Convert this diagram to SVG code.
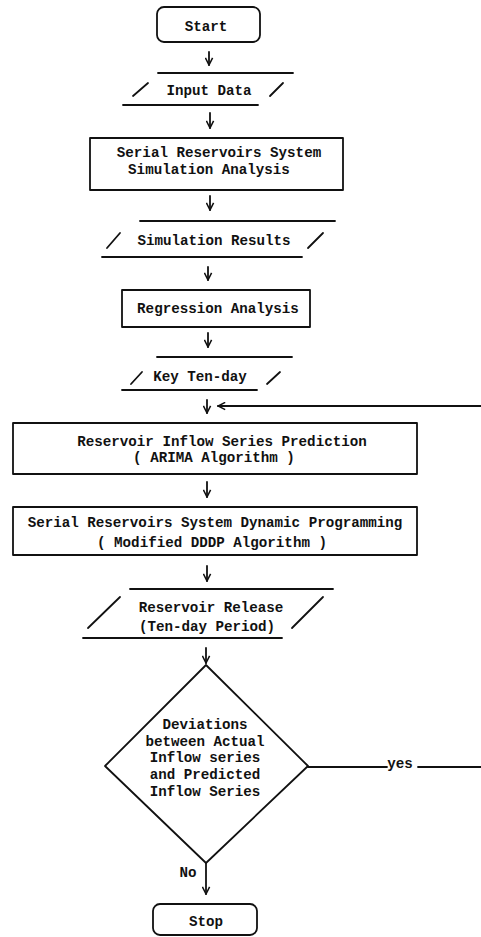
<svg xmlns="http://www.w3.org/2000/svg" width="481" height="937" viewBox="0 0 481 937">
<style>
.s{fill:none;stroke:#111;stroke-width:1.8;stroke-linecap:round;stroke-linejoin:round}
.t{font-family:"Liberation Mono","DejaVu Sans Mono",monospace;font-weight:bold;font-size:14.2px;fill:#111;text-anchor:middle}
</style>
<defs>
<marker id="ah" viewBox="0 0 10 10" refX="9" refY="5" markerWidth="9" markerHeight="9" orient="auto" markerUnits="userSpaceOnUse">
<path d="M1,1 L9,5 L1,9" fill="none" stroke="#111" stroke-width="1.7"/>
</marker>
</defs>
<rect width="481" height="937" fill="#fff"/>

<g id="start">
<rect class="s" x="157" y="7" width="103" height="35" rx="7"/>
<text class="t" x="206" y="31">Start</text>
</g>

<g id="input">
<line class="s" x1="158" y1="73" x2="293" y2="73"/>
<line class="s" x1="123" y1="105" x2="258" y2="105"/>
<line class="s" x1="133" y1="96" x2="148" y2="83"/>
<line class="s" x1="270" y1="96" x2="283" y2="83"/>
<text class="t" x="209" y="95">Input Data</text>
</g>

<g id="simulation">
<rect class="s" x="90" y="138" width="253" height="52"/>
<text class="t" x="219" y="157">Serial Reservoirs System</text>
<text class="t" x="209" y="174">Simulation Analysis</text>
</g>

<g id="simresults">
<line class="s" x1="140" y1="221" x2="335" y2="221"/>
<line class="s" x1="102" y1="257" x2="302" y2="257"/>
<line class="s" x1="107" y1="248" x2="120" y2="233"/>
<line class="s" x1="308" y1="248" x2="323" y2="233"/>
<text class="t" x="214" y="245">Simulation Results</text>
</g>

<g id="regression">
<rect class="s" x="122" y="290" width="188" height="37"/>
<text class="t" x="218" y="313">Regression Analysis</text>
</g>

<g id="keyten">
<line class="s" x1="157" y1="357" x2="292" y2="357"/>
<line class="s" x1="122" y1="390" x2="257" y2="390"/>
<line class="s" x1="131" y1="384" x2="142" y2="372"/>
<line class="s" x1="267" y1="384" x2="280" y2="372"/>
<text class="t" x="200" y="381">Key Ten-day</text>
</g>

<g id="inflow">
<rect class="s" x="13" y="423" width="404" height="51"/>
<text class="t" x="222" y="446">Reservoir Inflow Series Prediction</text>
<text class="t" x="214" y="462">( ARIMA Algorithm )</text>
</g>

<g id="ddp">
<rect class="s" x="13" y="507" width="404" height="48"/>
<text class="t" x="215" y="527">Serial Reservoirs System Dynamic Programming</text>
<text class="t" x="212" y="547">( Modified DDDP Algorithm )</text>
</g>

<g id="release">
<line class="s" x1="130" y1="589" x2="333" y2="589"/>
<line class="s" x1="83" y1="638" x2="282" y2="638"/>
<line class="s" x1="88" y1="628" x2="120" y2="597"/>
<line class="s" x1="292" y1="628" x2="323" y2="597"/>
<text class="t" x="211" y="612">Reservoir Release</text>
<text class="t" x="207" y="631">(Ten-day Period)</text>
</g>

<g id="decision">
<path class="s" d="M206,665 L308,766 L206,863 L105,766 Z"/>
<text class="t" x="205" y="729">Deviations</text>
<text class="t" x="205" y="746">between Actual</text>
<text class="t" x="205" y="762">Inflow series</text>
<text class="t" x="205" y="779">and Predicted</text>
<text class="t" x="205" y="796">Inflow Series</text>
</g>

<g id="stop">
<rect class="s" x="153" y="904" width="104" height="31" rx="7"/>
<text class="t" x="206" y="926">Stop</text>
</g>

<g id="connectors">
<line class="s" x1="209" y1="52" x2="209" y2="65" marker-end="url(#ah)"/>
<line class="s" x1="210" y1="113" x2="210" y2="128" marker-end="url(#ah)"/>
<line class="s" x1="210" y1="196" x2="210" y2="210" marker-end="url(#ah)"/>
<line class="s" x1="208" y1="267" x2="208" y2="280" marker-end="url(#ah)"/>
<line class="s" x1="208" y1="333" x2="208" y2="347" marker-end="url(#ah)"/>
<line class="s" x1="207" y1="400" x2="207" y2="413" marker-end="url(#ah)"/>
<line class="s" x1="207" y1="482" x2="207" y2="497" marker-end="url(#ah)"/>
<line class="s" x1="207" y1="566" x2="207" y2="581" marker-end="url(#ah)"/>
<line class="s" x1="206" y1="648" x2="206" y2="663" marker-end="url(#ah)"/>
<line class="s" x1="206" y1="863" x2="206" y2="894" marker-end="url(#ah)"/>
<path class="s" d="M308,767 L387,767 M418,767 L484,767 L484,406"/>
<line class="s" x1="481" y1="406" x2="218" y2="406" marker-end="url(#ah)"/>
<text class="t" x="400" y="768">yes</text>
<text class="t" x="188" y="877">No</text>
</g>
</svg>
